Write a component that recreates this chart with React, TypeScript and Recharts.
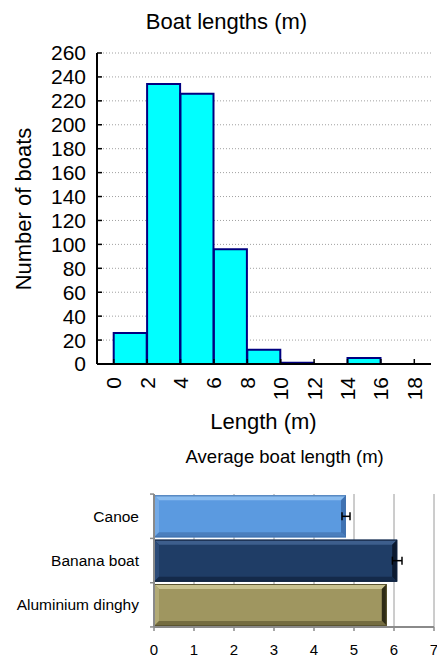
import React from 'react';
import {
  BarChart, Bar, XAxis, YAxis, CartesianGrid, Cell, ErrorBar,
} from 'recharts';

// ---- Histogram data ----
const binStarts = [0, 2, 4, 6, 8, 10, 12, 14, 16];
const binWidth = 2;
const boatCounts = [26, 234, 226, 96, 12, 1, 0, 5, 0];
const lengthTicks = [0, 2, 4, 6, 8, 10, 12, 14, 16, 18];
const countTicks = [0, 20, 40, 60, 80, 100, 120, 140, 160, 180, 200, 220, 240, 260];

// ---- Average length data ----
const boatTypes = ['Canoe', 'Banana boat', 'Aluminium dinghy'];
const avgLengths = [4.8, 6.08, 5.82];
const avgErrors = [0.1, 0.12, 0];
const avgTicks = [0, 1, 2, 3, 4, 5, 6, 7];

const histData = binStarts.map((s, i) => ({ mid: s + binWidth / 2, count: boatCounts[i] }));
const avgData = boatTypes.map((n, i) => ({ name: n, value: avgLengths[i], err: avgErrors[i] }));

const FONT = 'Arial, "Liberation Sans", sans-serif';

const palettes = [
  { base: '#5B9AE0', top: '#8ABCEF', left: '#74AAE6', right: '#3F72B2', bottom: '#4A7EBD', edge: '#4272AE' },
  { base: '#1F3D66', top: '#3D5E8C', left: '#2C4B78', right: '#0C1A30', bottom: '#142a4a', edge: '#10213c' },
  { base: '#9F9660', top: '#C9C290', left: '#B3AB76', right: '#2E2B16', bottom: '#746C40', edge: '#5a5430' },
];

const RotTick = (props: any) => {
  const { x, y, payload } = props;
  return (
    <text
      x={x}
      y={y}
      transform={`rotate(-90 ${x} ${y})`}
      textAnchor="end"
      dominantBaseline="central"
      fontSize={21}
      fontFamily={FONT}
      fill="#000"
    >
      {payload.value}
    </text>
  );
};

const BevelBar = (props: any) => {
  const { x, y, width, height, index } = props;
  if (width == null || width <= 0) return null;
  const p = palettes[index % palettes.length];
  const b = 5;
  const w = width;
  const h = height;
  return (
    <g>
      <rect x={x} y={y} width={w} height={h} fill={p.base} />
      <polygon points={`${x},${y} ${x + w},${y} ${x + w - b},${y + b} ${x + b},${y + b}`} fill={p.top} />
      <polygon points={`${x},${y} ${x + b},${y + b} ${x + b},${y + h - b} ${x},${y + h}`} fill={p.left} />
      <polygon points={`${x + w},${y} ${x + w},${y + h} ${x + w - b},${y + h - b} ${x + w - b},${y + b}`} fill={p.right} />
      <polygon points={`${x},${y + h} ${x + w},${y + h} ${x + w - b},${y + h - b} ${x + b},${y + h - b}`} fill={p.bottom} />
      <rect x={x + 0.5} y={y + 0.5} width={w - 1} height={h - 1} fill="none" stroke={p.edge} strokeWidth={1} />
    </g>
  );
};

const CatTick = (props: any) => {
  const { x, y, payload, index } = props;
  const half = 22.1;
  const axisX = x + 15;
  return (
    <g>
      <text x={x} y={y} textAnchor="end" dominantBaseline="central" fontSize={15.5} fontFamily={FONT} fill="#000">
        {payload.value}
      </text>
      <line x1={axisX - 4} x2={axisX} y1={y - half} y2={y - half} stroke="#8a8a8a" strokeWidth={1.5} />
      {index === boatTypes.length - 1 && (
        <line x1={axisX - 4} x2={axisX} y1={y + half} y2={y + half} stroke="#8a8a8a" strokeWidth={1.5} />
      )}
    </g>
  );
};

export default function App() {
  return (
    <div style={{ position: 'absolute', left: 0, top: 0, width: 437, height: 656, background: '#fff', fontFamily: FONT, overflow: 'hidden' }}>
      <div style={{ position: 'absolute', left: 0, width: 453, top: 11, fontSize: 22, lineHeight: '22px', textAlign: 'center', color: '#000', whiteSpace: 'nowrap' }}>
        Boat lengths (m)
      </div>
      <div style={{ position: 'absolute', left: 24 - 110, width: 220, top: 209 - 11, fontSize: 22, lineHeight: '22px', textAlign: 'center', transform: 'rotate(-90deg)', color: '#000', whiteSpace: 'nowrap' }}>
        Number of boats
      </div>
      <div style={{ position: 'absolute', left: 163.5, width: 200, top: 410.7, fontSize: 22, lineHeight: '22px', textAlign: 'center', color: '#000', whiteSpace: 'nowrap' }}>
        Length (m)
      </div>
      <div style={{ position: 'absolute', left: 134.7, width: 300, top: 447.6, fontSize: 18.5, lineHeight: '18.5px', textAlign: 'center', color: '#000', whiteSpace: 'nowrap' }}>
        Average boat length (m)
      </div>

      <div style={{ position: 'absolute', left: 0, top: 0 }}>
        <BarChart width={437} height={400} data={histData} margin={{ top: 53, right: 6, bottom: 0, left: 0 }} barCategoryGap={0} barGap={0}>
          <CartesianGrid xAxisId="b" yAxisId="l" vertical={false} horizontal={true} stroke="#a0a0a0" strokeWidth={1} strokeDasharray="1 2" />
          <XAxis
            xAxisId="b"
            dataKey="mid"
            type="number"
            domain={[-1, 19]}
            ticks={lengthTicks}
            interval={0}
            height={36}
            axisLine={{ stroke: '#000', strokeWidth: 2 }}
            tickLine={{ stroke: '#000', strokeWidth: 1.5 }}
            tickSize={-5}
            tickMargin={18}
            tick={<RotTick />}
            allowDataOverflow
          />
          <XAxis
            xAxisId="t"
            orientation="top"
            type="number"
            domain={[-1, 19]}
            ticks={lengthTicks}
            interval={0}
            height={0}
            axisLine={{ stroke: '#000', strokeWidth: 2 }}
            tickLine={{ stroke: '#000', strokeWidth: 1.5 }}
            tickSize={-5}
            tick={false}
            allowDataOverflow
          />
          <YAxis
            yAxisId="l"
            type="number"
            domain={[0, 260]}
            ticks={countTicks}
            interval={0}
            width={97}
            axisLine={{ stroke: '#000', strokeWidth: 2 }}
            tickLine={{ stroke: '#000', strokeWidth: 1.5 }}
            tickSize={-5}
            tickMargin={16}
            tick={{ fontSize: 21, fill: '#000', fontFamily: FONT }}
          />
          <YAxis
            yAxisId="r"
            orientation="right"
            type="number"
            domain={[0, 260]}
            ticks={countTicks}
            interval={0}
            width={0}
            axisLine={{ stroke: '#000', strokeWidth: 2 }}
            tickLine={{ stroke: '#000', strokeWidth: 1.5 }}
            tickSize={-5}
            tick={false}
          />
          <Bar xAxisId="b" yAxisId="l" dataKey="count" fill="#00FFFF" stroke="#000080" strokeWidth={2} isAnimationActive={false} />
        </BarChart>
      </div>

      <div style={{ position: 'absolute', left: 0, top: 440 }}>
        <BarChart
          layout="vertical"
          width={437}
          height={216}
          data={avgData}
          margin={{ top: 54, right: 3, bottom: 0, left: 0 }}
          barCategoryGap="3%"
        >
          <CartesianGrid horizontal={false} stroke="#9a9a9a" strokeWidth={1} />
          <XAxis
            type="number"
            domain={[0, 7]}
            ticks={avgTicks}
            interval={0}
            height={29}
            axisLine={{ stroke: '#8a8a8a', strokeWidth: 2 }}
            tickLine={{ stroke: '#8a8a8a', strokeWidth: 1.5 }}
            tickSize={4}
            tickMargin={13}
            tick={{ fontSize: 15, fill: '#000', fontFamily: FONT }}
          />
          <YAxis
            type="category"
            dataKey="name"
            width={154}
            axisLine={{ stroke: '#8a8a8a', strokeWidth: 2 }}
            tickLine={false}
            tickSize={0}
            tickMargin={15}
            tick={<CatTick />}
          />
          <Bar dataKey="value" shape={<BevelBar />} isAnimationActive={false}>
            {avgData.map((d, i) => (
              <Cell key={d.name} fill={palettes[i].base} />
            ))}
            <ErrorBar dataKey="err" direction="x" width={4} stroke="#000" strokeWidth={1.5} />
          </Bar>
        </BarChart>
      </div>
    </div>
  );
}
